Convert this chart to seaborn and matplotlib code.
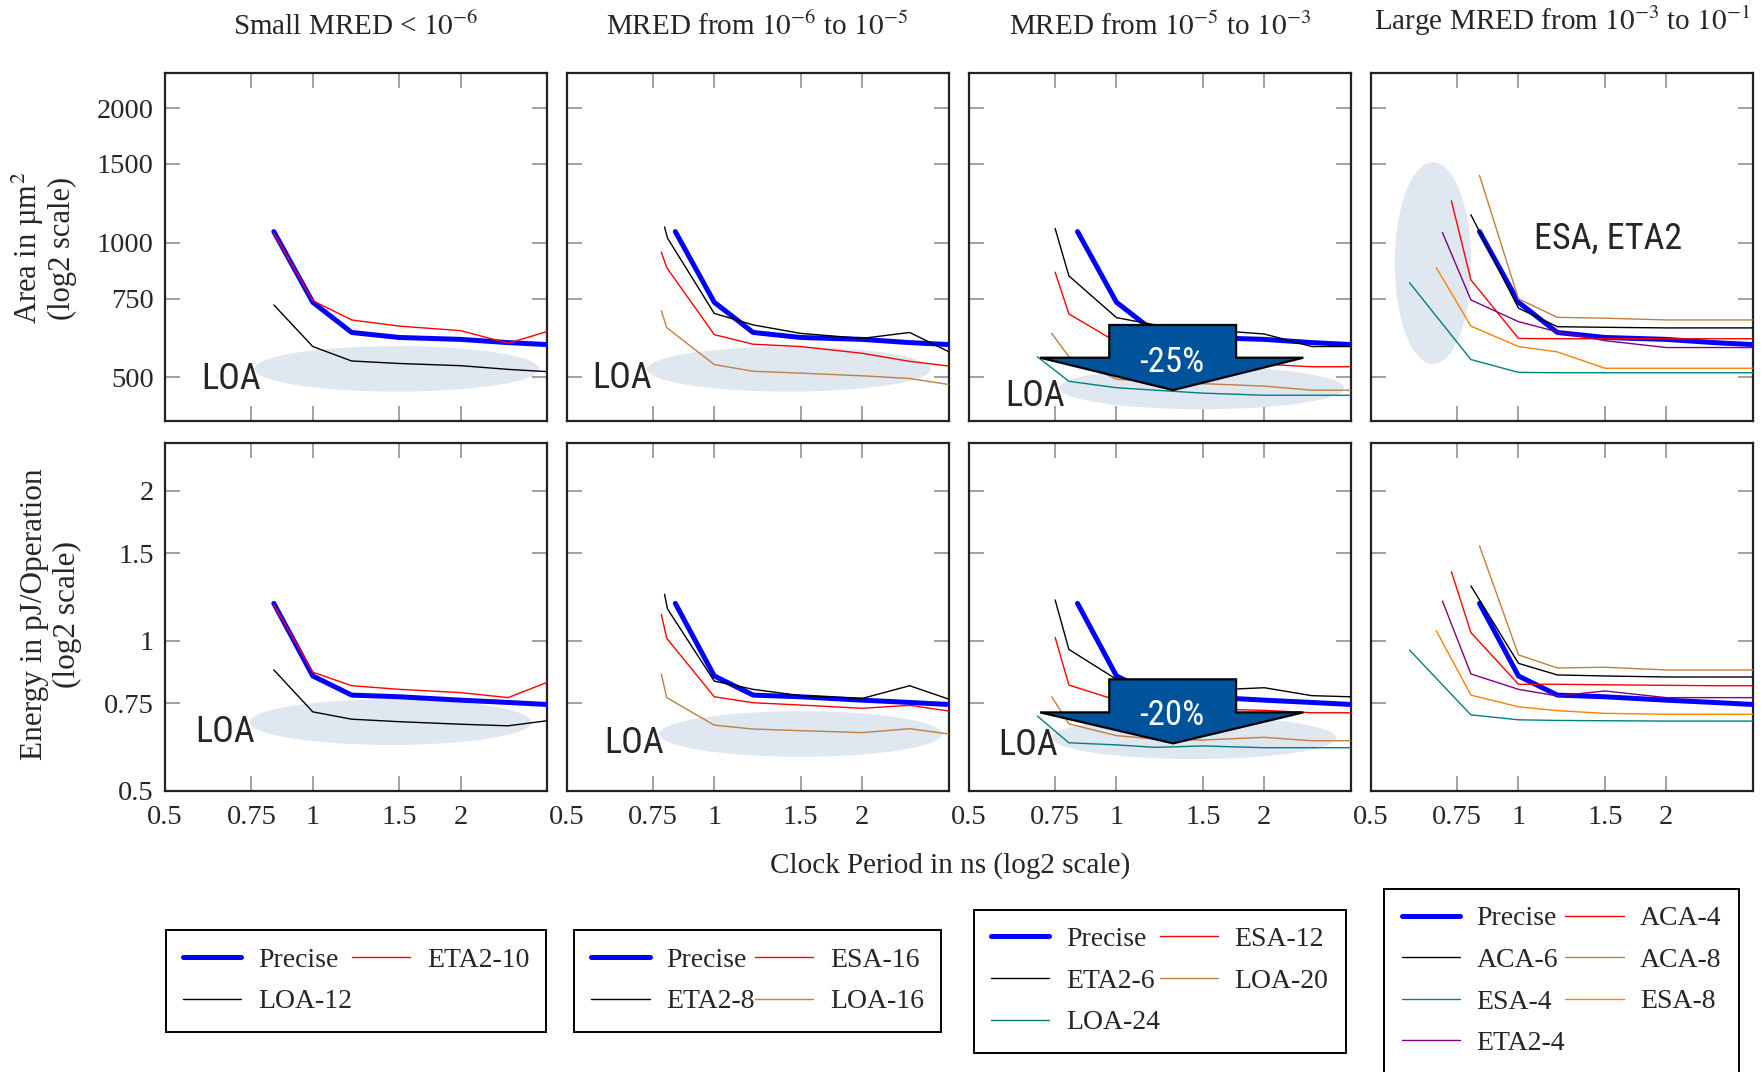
import matplotlib
matplotlib.use("Agg")
import matplotlib.pyplot as plt
import pandas as pd
import seaborn as sns
from matplotlib import font_manager
from matplotlib.patches import Ellipse, Polygon
from matplotlib.ticker import FixedLocator, FixedFormatter, NullLocator

# ---------------------------------------------------------------------------
# Clock period (ns) vs. area (um^2) and energy (pJ/op) for approximate adders
# ---------------------------------------------------------------------------
precise_x = [0.833, 1.0, 1.2, 1.5, 2.0, 2.5, 3.0]
precise_area = [1059, 736, 630, 614, 608, 598, 592]
precise_energy = [1.189, 0.850, 0.778, 0.772, 0.760, 0.752, 0.745]

# Small MRED < 1e-6
eta2_10_x = [0.833, 1.0, 1.2, 1.5, 2.0, 2.5, 3.0]
eta2_10_area = [1050, 742, 672, 651, 636, 596, 633]
eta2_10_energy = [1.18, 0.865, 0.8125, 0.799, 0.787, 0.769, 0.825]
loa12_x = [0.833, 1.0, 1.2, 1.5, 2.0, 2.5, 3.0]
loa12_area = [726, 586, 544, 537, 531, 521, 515]
loa12_energy = [0.874, 0.720, 0.696, 0.688, 0.680, 0.675, 0.691]

# MRED from 1e-6 to 1e-5
esa16_x = [0.78, 0.80, 1.0, 1.2, 1.5, 2.0, 2.5, 3.0]
esa16_area = [953, 880, 623, 593, 586, 566, 543, 530]
esa16_energy = [1.130, 1.012, 0.772, 0.751, 0.743, 0.732, 0.742, 0.723]
eta2_8_x = [0.792, 0.803, 1.0, 1.2, 1.5, 2.0, 2.5, 3.0]
eta2_8_area = [1084, 1024, 695, 655, 627, 611, 630, 571]
eta2_8_energy = [1.240, 1.159, 0.830, 0.799, 0.776, 0.766, 0.8125, 0.764]
loa16_x = [0.78, 0.80, 1.0, 1.2, 1.5, 2.0, 2.5, 3.0]
loa16_area = [705, 646, 534, 516, 511, 504, 497, 482]
loa16_energy = [0.857, 0.769, 0.677, 0.665, 0.660, 0.654, 0.666, 0.650]

# MRED from 1e-5 to 1e-3
esa12_x = [0.75, 0.8, 1.0, 1.2, 1.5, 2.0, 2.5, 3.0]
esa12_area = [859, 693, 600, 560, 545, 535, 528, 528]
esa12_energy = [1.016, 0.815, 0.76, 0.74, 0.73, 0.725, 0.717, 0.717]
eta2_6_x = [0.75, 0.8, 1.0, 1.2, 1.5, 2.0, 2.5, 3.0]
eta2_6_area = [1076, 843, 680, 655, 640, 625, 586, 586]
eta2_6_energy = [1.208, 0.961, 0.837, 0.81, 0.795, 0.805, 0.776, 0.772]
loa20_x = [0.738, 0.8, 1.0, 1.2, 1.5, 2.0, 2.5, 3.0]
loa20_area = [627, 556, 495, 490, 484, 478, 468, 468]
loa20_energy = [0.772, 0.681, 0.645, 0.635, 0.632, 0.640, 0.630, 0.630]
loa24_x = [0.69, 0.8, 1.0, 1.2, 1.5, 2.0, 2.5, 3.0]
loa24_area = [556, 490, 474, 468, 461, 456, 456, 456]
loa24_energy = [0.706, 0.624, 0.618, 0.611, 0.615, 0.610, 0.610, 0.610]

# Large MRED from 1e-3 to 1e-1
aca4_x = [0.73, 0.8, 1.0, 1.2, 1.5, 2.0, 2.5, 3.0]
aca4_area = [1241, 826, 611, 610, 610, 610, 610, 610]
aca4_energy = [1.377, 1.039, 0.818, 0.818, 0.816, 0.814, 0.8125, 0.8125]
aca6_x = [0.8, 1.0, 1.2, 1.5, 2.0, 2.5, 3.0]
aca6_area = [1155, 714, 649, 647, 645, 645, 645]
aca6_energy = [1.289, 0.901, 0.854, 0.850, 0.846, 0.846, 0.846]
aca8_x = [0.833, 1.0, 1.2, 1.5, 2.0, 2.5, 3.0]
aca8_area = [1414, 749, 681, 678, 672, 672, 672]
aca8_energy = [1.551, 0.937, 0.882, 0.885, 0.874, 0.874, 0.874]
esa4_x = [0.6, 0.8, 1.0, 1.2, 1.5, 2.0, 2.5, 3.0]
esa4_area = [814, 548, 513, 512, 512, 512, 512, 512]
esa4_energy = [0.958, 0.710, 0.694, 0.692, 0.691, 0.690, 0.690, 0.690]
esa8_x = [0.68, 0.8, 1.0, 1.2, 1.5, 2.0, 2.5, 3.0]
esa8_area = [880, 651, 586, 570, 524, 524, 524, 524]
esa8_energy = [1.048, 0.778, 0.737, 0.724, 0.715, 0.712, 0.712, 0.712]
eta2_4_x = [0.7, 0.8, 1.0, 1.2, 1.5, 2.0, 2.5, 3.0]
eta2_4_area = [1054, 745, 666, 632, 604, 583, 583, 583]
eta2_4_energy = [1.202, 0.858, 0.799, 0.775, 0.793, 0.769, 0.769, 0.769]

group_titles = [
    r"Small MRED < $10^{-6}$",
    r"MRED from $10^{-6}$ to $10^{-5}$",
    r"MRED from $10^{-5}$ to $10^{-3}$",
    r"Large MRED from $10^{-3}$ to $10^{-1}$",
]

x_ticks = [0.5, 0.75, 1, 1.5, 2]
x_tick_labels = ["0.5", "0.75", "1", "1.5", "2"]
area_ticks = [500, 750, 1000, 1500, 2000]
area_tick_labels = ["500", "750", "1000", "1500", "2000"]
energy_ticks = [0.5, 0.75, 1, 1.5, 2]
energy_tick_labels = ["0.5", "0.75", "1", "1.5", "2"]

# ---------------------------------------------------------------------------
# Series per group: (label, x, area, energy, colour, width)
# ---------------------------------------------------------------------------
BLUE, RED, BLACK = "#0000ff", "#ff0000", "#000000"
BROWN, TEAL, ORANGE, PURPLE = "#bf8040", "#008080", "#ff8000", "#800080"
THICK, THIN = 3.6, 1.0

groups = [
    [("Precise", precise_x, precise_area, precise_energy, BLUE, THICK),
     ("ETA2-10", eta2_10_x, eta2_10_area, eta2_10_energy, RED, THIN),
     ("LOA-12", loa12_x, loa12_area, loa12_energy, BLACK, THIN)],
    [("Precise", precise_x, precise_area, precise_energy, BLUE, THICK),
     ("ESA-16", esa16_x, esa16_area, esa16_energy, RED, THIN),
     ("ETA2-8", eta2_8_x, eta2_8_area, eta2_8_energy, BLACK, THIN),
     ("LOA-16", loa16_x, loa16_area, loa16_energy, BROWN, THIN)],
    [("Precise", precise_x, precise_area, precise_energy, BLUE, THICK),
     ("ESA-12", esa12_x, esa12_area, esa12_energy, RED, THIN),
     ("ETA2-6", eta2_6_x, eta2_6_area, eta2_6_energy, BLACK, THIN),
     ("LOA-20", loa20_x, loa20_area, loa20_energy, BROWN, THIN),
     ("LOA-24", loa24_x, loa24_area, loa24_energy, TEAL, THIN)],
    [("Precise", precise_x, precise_area, precise_energy, BLUE, THICK),
     ("ACA-4", aca4_x, aca4_area, aca4_energy, RED, THIN),
     ("ACA-6", aca6_x, aca6_area, aca6_energy, BLACK, THIN),
     ("ACA-8", aca8_x, aca8_area, aca8_energy, BROWN, THIN),
     ("ESA-4", esa4_x, esa4_area, esa4_energy, TEAL, THIN),
     ("ESA-8", esa8_x, esa8_area, esa8_energy, ORANGE, THIN),
     ("ETA2-4", eta2_4_x, eta2_4_area, eta2_4_energy, PURPLE, THIN)],
]

# ---------------------------------------------------------------------------
# Style
# ---------------------------------------------------------------------------
sns.set_style("ticks")
plt.rcParams["font.family"] = ["Liberation Serif", "DejaVu Serif"]
plt.rcParams["mathtext.fontset"] = "stix"
plt.rcParams["axes.unicode_minus"] = True


def pick_font(candidates):
    for name in candidates:
        try:
            font_manager.findfont(font_manager.FontProperties(family=name),
                                  fallback_to_default=False)
            return name
        except Exception:
            continue
    return None


# Narrow sans for the in-plot annotations; scale down if only a wide face exists
NOTE_FONT = pick_font(["Liberation Sans Narrow", "Noto Sans Condensed",
                       "Noto Sans SemiCondensed", "Roboto Condensed",
                       "Open Sans Condensed"])
NOTE_SIZE = 26
if NOTE_FONT is None:
    NOTE_FONT = pick_font(["Open Sans", "Noto Sans"]) or "DejaVu Sans"
    NOTE_SIZE = 23.5

W, H = 1763, 1072
fig = plt.figure(figsize=(W / 100, H / 100), dpi=100)
fig.patch.set_facecolor("white")

col_left = [165, 566.5, 968.7, 1370.7]
ax_w, ax_h = 382, 348
row_top = [72.7, 442.7]

HAZE = "#dfe7f0"
ARROW = "#00529b"

# Highlight ellipses (axes fraction: cx, cy, w, h)
area_hazes = [(0.607, 0.149, 0.745, 0.131), (0.582, 0.148, 0.742, 0.129),
              (0.610, 0.094, 0.745, 0.122), (0.163, 0.4526, 0.200, 0.58)]
energy_hazes = [(0.591, 0.197, 0.738, 0.131), (0.613, 0.163, 0.740, 0.131),
                (0.590, 0.152, 0.745, 0.122), None]
area_notes = [("LOA", 0.095, 0.090), ("LOA", 0.068, 0.093),
              ("LOA", 0.095, 0.042), ("ESA, ETA2", 0.428, 0.495)]
energy_notes = [("LOA", 0.078, 0.141), ("LOA", 0.098, 0.107),
                ("LOA", 0.078, 0.102), None]


def arrow(ax, top, base, tip, text, text_y):
    pts = [(0.368, top), (0.700, top), (0.700, base), (0.876, base),
           (0.535, tip), (0.187, base), (0.368, base)]
    ax.add_patch(Polygon(pts, closed=True, transform=ax.transAxes,
                         facecolor=ARROW, edgecolor="black", linewidth=1.6,
                         zorder=6))
    ax.text(0.532, text_y, text, transform=ax.transAxes, ha="center",
            va="baseline", color="white", fontsize=NOTE_SIZE - 1,
            family=NOTE_FONT, zorder=7)


def style_axes(ax, row, col):
    ax.set_xscale("log", base=2)
    ax.set_yscale("log", base=2)
    ax.set_xlim(0.5, 3.0)
    if row == 0:
        ax.set_ylim(400, 2400)
        yt, ytl = area_ticks, area_tick_labels
    else:
        ax.set_ylim(0.5, 2.5)
        yt, ytl = energy_ticks, energy_tick_labels
    ax.xaxis.set_major_locator(FixedLocator(x_ticks))
    ax.xaxis.set_major_formatter(FixedFormatter(x_tick_labels))
    ax.yaxis.set_major_locator(FixedLocator(yt))
    ax.yaxis.set_major_formatter(FixedFormatter(ytl))
    ax.xaxis.set_minor_locator(NullLocator())
    ax.yaxis.set_minor_locator(NullLocator())
    ax.tick_params(which="major", direction="in", length=11, width=1.3,
                   color="#9a9a9a", top=True, right=True, labelsize=20.5,
                   labelbottom=(row == 1), labelleft=(col == 0))
    ax.tick_params(axis="x", pad=10)
    ax.tick_params(axis="y", pad=8)
    for sp in ax.spines.values():
        sp.set_linewidth(1.6)
        sp.set_color("#222222")
    ax.set_xlabel("")
    ax.set_ylabel("")
    ax.grid(False)


legend_handles = []
for col, series in enumerate(groups):
    for row in range(2):
        ax = fig.add_axes([col_left[col] / W, 1 - (row_top[row] + ax_h) / H,
                           ax_w / W, ax_h / H])
        ax.set_facecolor("white")
        haze = area_hazes[col] if row == 0 else energy_hazes[col]
        if haze is not None:
            cx, cy, ew, eh = haze
            ax.add_patch(Ellipse((cx, cy), ew, eh, transform=ax.transAxes,
                                 facecolor=HAZE, edgecolor="none", zorder=1))
        for label, xs, area, energy, color, lw in series:
            ys = area if row == 0 else energy
            df = pd.DataFrame({"period": xs, "value": ys})
            sns.lineplot(data=df, x="period", y="value", ax=ax, color=color,
                         linewidth=lw, estimator=None, sort=False,
                         legend=False, label=label, zorder=3)
        style_axes(ax, row, col)
        note = area_notes[col] if row == 0 else energy_notes[col]
        if note is not None:
            txt, nx, ny = note
            ax.text(nx, ny, txt, transform=ax.transAxes, ha="left",
                    va="baseline", fontsize=NOTE_SIZE, family=NOTE_FONT,
                    zorder=5)
        if col == 2:
            if row == 0:
                arrow(ax, 0.275, 0.181, 0.088, "-25%", 0.141)
            else:
                arrow(ax, 0.320, 0.225, 0.136, "-20%", 0.189)
        if row == 0:
            legend_handles.append(ax.get_legend_handles_labels())

# Column titles
for col, title in enumerate(group_titles):
    cx = (col_left[col] + ax_w / 2) / W
    base = 30 if col == 3 else 35
    fig.text(cx, 1 - base / H, title, ha="center", va="baseline", fontsize=21)

# Axis titles
ylab = dict(rotation=90, rotation_mode="anchor", ha="center", va="baseline")
fig.text(37.5 / W, 1 - 248 / H, "Area in µm$^2$", fontsize=22, **ylab)
fig.text(70 / W, 1 - 248 / H, "(log2 scale)", fontsize=22, **ylab)
fig.text(42.5 / W, 1 - 614 / H, "Energy in pJ/Operation", fontsize=22.5, **ylab)
fig.text(75 / W, 1 - 614 / H, "(log2 scale)", fontsize=22.5, **ylab)
fig.text(950 / W, 1 - 873 / H, "Clock Period in ns (log2 scale)",
         ha="center", va="baseline", fontsize=21)

# Legends under each column, filled row by row
for col, (handles, labels) in enumerate(legend_handles):
    n = len(handles)
    order = list(range(0, n, 2)) + list(range(1, n, 2))
    h = [handles[i] for i in order]
    l = [labels[i] for i in order]
    cx = (col_left[col] + ax_w / 2) / W
    leg = fig.legend(h, l, loc="center", bbox_to_anchor=(cx, 1 - 981 / H),
                     ncol=2, frameon=True, fancybox=False, edgecolor="black",
                     framealpha=1, fontsize=20, handlelength=2.1,
                     handletextpad=0.6, columnspacing=0.0, labelspacing=0.58,
                     borderpad=0.62, borderaxespad=0)
    leg.get_frame().set_linewidth(1.4)

fig.savefig("out.png", dpi=100, facecolor="white")
